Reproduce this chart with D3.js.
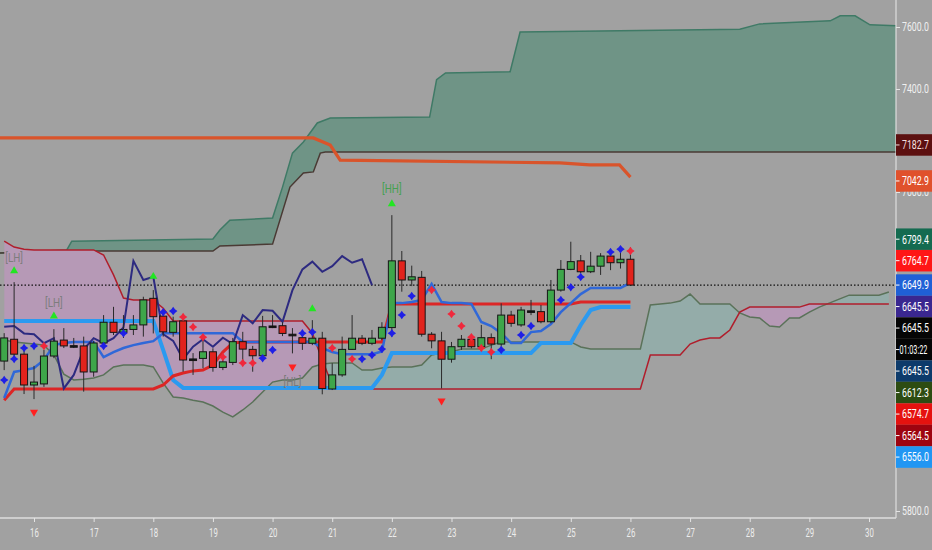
<!DOCTYPE html>
<html>
<head>
<meta charset="utf-8">
<script src="https://cdn.jsdelivr.net/npm/d3@7/dist/d3.min.js"></script>
<style>
html,body{margin:0;padding:0;background:#a1a1a1;overflow:hidden;}
svg{display:block;}
</style>
</head>
<body>
<svg id="chart" width="932" height="550"></svg>
<script>
// ================= DATA =================
const dayTicks = [16,17,18,19,20,21,22,23,24,25,26,27,28,29,30];
const priceTicks = [5800,7000,7400,7600];
const barStartDay = 15.5;   // first 4h bar: 15th, 12:00
const barsPerDay = 6;
const lastPrice = 6649.9;

const open  = [6364,6446,6390,6274,6278,6383,6443,6422,6421,6323,6432,6510,6472,6483,6500,6600,6533,6472,6515,6372,6374,6399,6340,6359,6437,6408,6384,6496,6497,6465,6452,6431,6450,6259,6312,6408,6450,6431,6450,6490,6741,6669,6679,6465,6440,6371,6418,6446,6418,6452,6428,6537,6500,6553,6550,6512,6631,6709,6741,6700,6721,6759,6734,6747];
const high  = [6469,6661,6418,6346,6406,6484,6488,6451,6456,6440,6537,6568,6537,6537,6606,6631,6550,6531,6531,6394,6443,6412,6387,6451,6474,6421,6534,6537,6510,6488,6474,6518,6474,6356,6456,6537,6462,6481,6510,6913,6778,6723,6703,6473,6474,6436,6462,6456,6500,6468,6581,6553,6568,6594,6575,6669,6744,6813,6763,6775,6770,6770,6792,6792];
const low   = [6330,6379,6240,6221,6267,6375,6413,6413,6249,6305,6418,6462,6451,6462,6456,6468,6456,6456,6324,6312,6337,6324,6330,6349,6356,6324,6374,6488,6458,6393,6406,6424,6239,6255,6305,6406,6424,6424,6443,6456,6625,6646,6456,6412,6261,6358,6406,6412,6412,6371,6418,6493,6493,6537,6506,6506,6625,6706,6695,6695,6688,6706,6712,6648];
const close = [6451,6390,6274,6285,6383,6439,6421,6422,6323,6432,6510,6472,6483,6500,6594,6531,6474,6512,6368,6372,6399,6340,6361,6437,6409,6384,6493,6496,6468,6465,6431,6450,6261,6312,6408,6450,6431,6450,6491,6741,6669,6681,6465,6440,6371,6418,6446,6418,6452,6428,6537,6506,6556,6553,6512,6631,6709,6738,6700,6721,6759,6734,6747,6649.9];

// conversion line (blue), base line (red), slow base (light blue) – per bar
const tenkan = [6225,6323,6330,6338,6368,6424,6432,6436,6436,6436,6379,6398,6413,6424,6432,6439,6469,6469,6469,6469,6469,6469,6469,6469,6436,6436,6436,6436,6436,6436,6436,6436,6413,6398,6390,6390,6390,6390,6400,6582,6582,6586,6594,6654,6586,6582,6582,6579,6511,6496,6469,6432,6432,6473,6477,6503,6548,6582,6616,6639,6639,6639,6639,6658];
const kijun  = [6217,6259,6259,6259,6259,6259,6259,6259,6259,6259,6259,6259,6259,6259,6259,6259,6274,6308,6319,6327,6330,6349,6398,6432,6436,6436,6436,6436,6436,6436,6436,6436,6436,6436,6436,6436,6436,6436,6436,6579,6579,6579,6579,6579,6579,6579,6579,6579,6579,6579,6579,6579,6579,6579,6579,6579,6579,6579,6586,6586,6586,6586,6586,6586];
const slowBase = [6515,6515,6515,6515,6515,6515,6515,6515,6515,6515,6515,6515,6515,6515,6515,6515,6405,6293,6263,6263,6263,6263,6263,6263,6263,6263,6263,6263,6263,6263,6263,6263,6263,6263,6263,6263,6263,6263,6312,6394,6394,6394,6394,6394,6394,6394,6394,6394,6394,6394,6394,6394,6394,6394,6432,6432,6432,6432,6500,6556,6567,6567,6567,6567];
// lagging span, bars 0..37
const lagging = [6493,6496,6468,6465,6431,6450,6261,6312,6408,6450,6431,6450,6491,6741,6669,6681,6465,6440,6371,6418,6446,6418,6452,6428,6537,6506,6556,6553,6512,6631,6709,6738,6700,6721,6759,6734,6747,6649.9];
// leading spans, bars 0..89
const senkouA = [6443,6436,6432,6428,6424,6387,6315,6293,6296,6300,6312,6342,6349,6349,6349,6342,6281,6229,6225,6217,6210,6195,6172,6154,6180,6210,6248,6285,6293,6293,6300,6342,6353,6357,6357,6357,6330,6330,6338,6342,6342,6342,6349,6387,6394,6398,6409,6409,6409,6424,6436,6436,6436,6436,6436,6436,6436,6436,6417,6409,6409,6409,6409,6409,6409,6575,6579,6582,6590,6616,6579,6579,6579,6579,6545,6530,6526,6496,6492,6526,6526,6548,6567,6582,6597,6612,6612,6612,6612,6624];
const senkouB = [6815,6793,6785,6782,6782,6782,6782,6782,6782,6782,6763,6688,6601,6594,6594,6594,6563,6515,6515,6515,6515,6515,6515,6515,6515,6515,6515,6515,6515,6515,6515,6469,6368,6274,6259,6259,6259,6259,6259,6259,6259,6259,6259,6259,6259,6259,6259,6259,6259,6259,6259,6259,6259,6259,6259,6259,6259,6259,6259,6259,6259,6259,6259,6259,6259,6387,6387,6387,6387,6428,6443,6451,6451,6481,6548,6567,6567,6567,6567,6567,6567,6579,6579,6579,6579,6579,6579,6579,6579,6579];

// higher-timeframe cloud and base line: [bar, price]
const htfTop = [[-0.5,6770],[6.3,6782],[6.8,6815],[21.0,6823],[21.7,6857],[22.7,6894],[27.0,6902],[28.0,7019],[29.0,7151],[30.1,7194],[31.5,7268],[32.8,7287],[42.8,7291],[43.5,7430],[44.4,7452],[50.9,7456],[51.9,7584],[74.0,7593],[76.0,7610],[83.1,7620],[84.1,7636],[85.6,7636],[87.1,7607],[90.5,7603]];
const htfBottom = [[-0.5,6770],[6.3,6778],[21.0,6778],[21.7,6797],[27.0,6804],[28.75,7019],[30.1,7074],[31.1,7078],[31.8,7151],[32.3,7155],[90.5,7155]];
const htfBase = [[-0.5,7210],[31.1,7210],[32.8,7182],[33.8,7124],[55.9,7113],[58.9,7105],[61.9,7105],[63.0,7058]];

// signal dots [bar, price]
const buyDots = [[0,6293],[1,6372],[2,6413],[3,6421],[10,6421],[12,6469],[16,6548],[17,6552],[26,6375],[27,6406],[30,6469],[31,6473],[36,6372],[37,6387],[38,6409],[39,6469],[40,6537],[41,6609],[50,6406],[52,6462],[53,6496],[56,6594],[57,6642],[58,6680],[61,6774],[62,6785]];
const sellDots = [[4,6421],[18,6530],[19,6492],[20,6454],[22,6379],[24,6357],[25,6357],[33,6413],[35,6372],[43,6631],[45,6541],[46,6496],[47,6454],[48,6413],[49,6398],[63,6778]];
const upArrows = [[1,6703],[5,6533],[15,6682],[31,6560],[39,6955]];
const downArrows = [[3,6172],[29,6342],[44,6214]];
const swingLabels = [
  {bar:1,  price:6752, text:"[LH]", color:"#7d7d7d"},
  {bar:5,  price:6582, text:"[LH]", color:"#7d7d7d"},
  {bar:39, price:7012, text:"[HH]", color:"#46a050"},
  {bar:29, price:6285, text:"[HL]", color:"#7a7a7a"}
];
const priceLabels = [
  {v:7182.7, text:"7182.7", bg:"#5c1010", fg:"#f2dede"},
  {v:7042.9, text:"7042.9", bg:"#e0512c", fg:"#ffffff"},
  {v:6799.4, text:"6799.4", bg:"#146b50", fg:"#ffffff"},
  {v:6764.7, text:"6764.7", bg:"#ff1616", fg:"#ffffff"},
  {v:6649.9, text:"6649.9", bg:"#1f60d6", fg:"#ffffff", pinned:true},
  {v:6645.5, text:"6645.5", bg:"#3a2790", fg:"#ffffff"},
  {v:6645.5, text:"6645.5", bg:"#050505", fg:"#ffffff"},
  {v:6645.5, text:"01:03:22", bg:"#050505", fg:"#ffffff"},
  {v:6645.5, text:"6645.5", bg:"#0d3b6b", fg:"#ffffff"},
  {v:6612.3, text:"6612.3", bg:"#2d4c12", fg:"#ffffff"},
  {v:6574.7, text:"6574.7", bg:"#e5120f", fg:"#ffffff"},
  {v:6564.5, text:"6564.5", bg:"#9e0410", fg:"#ffffff"},
  {v:6556.0, text:"6556.0", bg:"#2196f3", fg:"#ffffff"}
];

// ================= CHART =================
const W = 932, H = 550, plotR = 896, plotB = 518;
const FONT = "Roboto, 'DejaVu Sans', sans-serif";
const svg = d3.select("#chart");
const x = d3.scaleLinear().domain([16, 30]).range([34, 869]);
const y = d3.scaleLinear().domain([5800, 7000, 7400, 7600]).range([511, 192, 89, 27]);
const bx = b => x(barStartDay + b / barsPerDay);

svg.append("rect").attr("width", W).attr("height", H).attr("fill", "#a1a1a1");
const defs = svg.append("defs");
defs.append("clipPath").attr("id", "plotClip").append("rect")
  .attr("x", 0).attr("y", 0).attr("width", plotR).attr("height", plotB);

const g = svg.append("g").attr("clip-path", "url(#plotClip)");

// ---- higher timeframe cloud ----
const polyLine = d3.line().x(d => bx(d[0])).y(d => y(d[1]));
g.append("path")
  .attr("d", polyLine(htfTop.concat(htfBottom.slice().reverse())) + "Z")
  .attr("fill", "#6f9486");
g.append("path").attr("d", polyLine(htfTop)).attr("fill", "none").attr("stroke", "#3f7a66").attr("stroke-width", 1.5);
g.append("path").attr("d", polyLine(htfBottom)).attr("fill", "none").attr("stroke", "#4a3a34").attr("stroke-width", 1.5);
g.append("path").attr("d", polyLine(htfBase)).attr("fill", "none").attr("stroke", "#d9542b").attr("stroke-width", 3.2);

// ---- main cloud ----
const cloud = senkouA.map((a, i) => ({b: i, a: a, s: senkouB[i]}));
defs.append("clipPath").attr("id", "aboveA").append("path")
  .attr("d", d3.area().x(d => bx(d.b)).y0(0).y1(d => y(d.a))(cloud));
defs.append("clipPath").attr("id", "belowA").append("path")
  .attr("d", d3.area().x(d => bx(d.b)).y0(plotB).y1(d => y(d.a))(cloud));
const areaAB = d3.area().x(d => bx(d.b)).y0(d => y(d.a)).y1(d => y(d.s));
g.append("g").attr("clip-path", "url(#aboveA)").append("path")
  .attr("d", areaAB(cloud)).attr("fill", "#b699b6");
g.append("g").attr("clip-path", "url(#belowA)").append("path")
  .attr("d", areaAB(cloud)).attr("fill", "#94aca9");

const seriesLine = d3.line().x((d, i) => bx(i)).y(d => y(d));
g.append("path").attr("d", seriesLine(senkouA)).attr("fill", "none").attr("stroke", "#5a7259").attr("stroke-width", 1.5);
g.append("path").attr("d", seriesLine(senkouB)).attr("fill", "none").attr("stroke", "#b01e2c").attr("stroke-width", 1.5);

// ---- last price dotted line ----
g.append("line").attr("x1", 0).attr("x2", plotR).attr("y1", y(lastPrice)).attr("y2", y(lastPrice))
  .attr("stroke", "#111").attr("stroke-width", 1.2).attr("stroke-dasharray", "1.5,2");

// ---- indicator lines ----
g.append("path").attr("d", seriesLine(slowBase)).attr("fill", "none").attr("stroke", "#2b9af0").attr("stroke-width", 4);
g.append("path").attr("d", seriesLine(kijun)).attr("fill", "none").attr("stroke", "#dc2626").attr("stroke-width", 3);
g.append("path").attr("d", seriesLine(tenkan)).attr("fill", "none").attr("stroke", "#3068d8").attr("stroke-width", 2.5);
g.append("path").attr("d", seriesLine(lagging)).attr("fill", "none").attr("stroke", "#2d2a80").attr("stroke-width", 2);

// ---- candles ----
const idx = d3.range(open.length);
const cg = g.append("g");
cg.selectAll("line.wick").data(idx).join("line")
  .attr("x1", i => bx(i)).attr("x2", i => bx(i))
  .attr("y1", i => y(high[i])).attr("y2", i => y(low[i]))
  .attr("stroke", "#2a2a2a").attr("stroke-width", 1);
cg.selectAll("rect.body").data(idx).join("rect")
  .attr("x", i => bx(i) - 3.5).attr("width", 7)
  .attr("y", i => y(Math.max(open[i], close[i])))
  .attr("height", i => Math.max(1.6, Math.abs(y(open[i]) - y(close[i]))))
  .attr("fill", i => open[i] === close[i] ? "#111" : (close[i] > open[i] ? "#3ea64a" : "#e2231c"))
  .attr("stroke", "#151515").attr("stroke-width", 1);

// ---- markers ----
const star4 = {
  draw(ctx, size) {
    const r = Math.sqrt(size), w = r * 0.42;
    ctx.moveTo(0, -r); ctx.lineTo(w, -w); ctx.lineTo(r, 0); ctx.lineTo(w, w);
    ctx.lineTo(0, r); ctx.lineTo(-w, w); ctx.lineTo(-r, 0); ctx.lineTo(-w, -w); ctx.closePath();
  }
};
const starPath = d3.symbol().type(star4).size(18)();
g.selectAll("path.buy").data(buyDots).join("path")
  .attr("d", starPath).attr("transform", d => `translate(${bx(d[0])},${y(d[1])})`).attr("fill", "#1f1fe6");
g.selectAll("path.sell").data(sellDots).join("path")
  .attr("d", starPath).attr("transform", d => `translate(${bx(d[0])},${y(d[1])})`).attr("fill", "#f0283c");
const tri = d3.symbol().type(d3.symbolTriangle).size(28)();
g.selectAll("path.up").data(upArrows).join("path")
  .attr("d", tri).attr("transform", d => `translate(${bx(d[0])},${y(d[1])})`).attr("fill", "#22e622");
g.selectAll("path.down").data(downArrows).join("path")
  .attr("d", tri).attr("transform", d => `translate(${bx(d[0])},${y(d[1])}) rotate(180)`).attr("fill", "#ff2020");
g.selectAll("text.swing").data(swingLabels).join("text")
  .attr("transform", d => `translate(${bx(d.bar)},${y(d.price)}) scale(0.83,1)`)
  .attr("dy", "0.35em").attr("text-anchor", "middle").attr("font-family", FONT)
  .attr("font-size", 12).attr("fill", d => d.color).text(d => d.text);

// ---- axes ----
svg.append("line").attr("x1", 0).attr("x2", plotR).attr("y1", plotB).attr("y2", plotB)
  .attr("stroke", "#dedede").attr("stroke-width", 1.5);
svg.append("line").attr("x1", plotR).attr("x2", plotR).attr("y1", 0).attr("y2", plotB)
  .attr("stroke", "#dedede").attr("stroke-width", 1.2);

const xAxis = svg.append("g").attr("transform", `translate(0,${plotB})`)
  .call(d3.axisBottom(x).tickValues(dayTicks).tickFormat(d3.format("d")).tickSize(4).tickPadding(6));
xAxis.select(".domain").remove();
xAxis.selectAll(".tick line").attr("stroke", "#e4e4e4");
xAxis.selectAll("text").attr("fill", "#ececec").attr("font-size", 12).attr("font-family", FONT)
  .attr("transform", "scale(0.65,1)");

const yAxis = svg.append("g").attr("transform", `translate(${plotR},0)`)
  .call(d3.axisRight(y).tickValues(priceTicks).tickFormat(d3.format(".1f")).tickSize(4).tickPadding(2));
yAxis.select(".domain").remove();
yAxis.selectAll(".tick line").attr("stroke", "#e4e4e4");
yAxis.selectAll("text").attr("fill", "#f0f0f0").attr("font-size", 12).attr("font-family", FONT)
  .attr("x", 0).attr("transform", "translate(6,0) scale(0.73,1)");

// ---- price labels (stacked like the platform does) ----
const LH = 21.5;
const items = priceLabels.map((d, i) => Object.assign({}, d, {order: i, want: y(d.v)}));
items.sort((a, b) => (a.want - b.want) || (a.order - b.order));
function placeGroup(grp) {
  const p = grp.items.findIndex(d => d.pinned);
  grp.top = p >= 0 ? grp.items[p].want - p * LH
                   : d3.mean(grp.items, d => d.want) - (grp.items.length - 1) * LH / 2;
}
let groups = items.map(d => ({items: [d]}));
groups.forEach(placeGroup);
let changed = true;
while (changed) {
  changed = false;
  for (let i = 0; i < groups.length - 1; i++) {
    const a = groups[i], b = groups[i + 1];
    if (a.top + a.items.length * LH > b.top + 0.01) {
      const m = {items: a.items.concat(b.items)};
      placeGroup(m);
      groups.splice(i, 2, m);
      changed = true;
      break;
    }
  }
}
groups.forEach(grp => grp.items.forEach((d, k) => d.yc = grp.top + k * LH));

const lg = svg.append("g");
const lab = lg.selectAll("g.lab").data(items).join("g").attr("transform", d => `translate(${plotR},${d.yc})`);
lab.append("rect").attr("x", 0).attr("y", -LH / 2).attr("width", W - plotR).attr("height", LH).attr("fill", d => d.bg);
lab.append("line").attr("x1", 0).attr("x2", 3.5).attr("y1", 0).attr("y2", 0).attr("stroke", d => d.fg).attr("stroke-width", 1);
lab.append("text")
  .attr("transform", d => d.text.length > 6 ? "translate(3.5,0) scale(0.6,1)" : "translate(6,0) scale(0.73,1)")
  .attr("dy", "0.36em").attr("font-family", FONT).attr("font-size", 12)
  .attr("fill", d => d.fg).text(d => d.text);
</script>
</body>
</html>
